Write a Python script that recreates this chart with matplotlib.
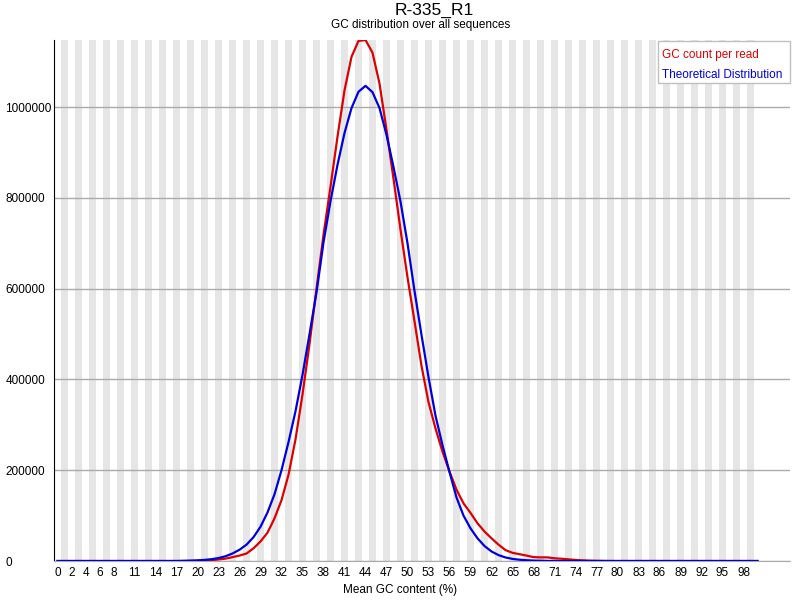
import matplotlib
matplotlib.use("Agg")
import matplotlib.pyplot as plt
from matplotlib.patches import Rectangle

plt.rcParams['font.family'] = ['Liberation Sans', 'DejaVu Sans']

# GC content bins 0..100 %
gc_percent = list(range(101))

# observed GC count per read (red)
gc_count = [
    0, 0, 0, 0, 0, 0, 0, 0, 0, 0,
    0, 0, 0, 0, 0, 0, 0, 0, 0, 200,
    500, 1000, 1500, 3500, 5200, 8500, 12000, 16500, 28000, 43000,
    62500, 94000, 134000, 190000, 268000, 367000, 478000, 600000, 719000, 825000,
    935000, 1037000, 1111000, 1146000, 1148000, 1120000, 1052000, 950000, 842000, 730000,
    625000, 528000, 430000, 350000, 292000, 241000, 197000, 157000, 127000, 106000,
    83000, 65000, 50000, 36000, 24000, 18000, 15000, 12000, 8500, 8000,
    8000, 6000, 5000, 3700, 2200, 1500, 800, 400, 200, 0,
    0, 0, 0, 0, 0, 0, 0, 0, 0, 0,
    0, 0, 0, 0, 0, 0, 0, 0, 0, 0,
    0,
]

# theoretical distribution (blue)
theoretical = [
    0, 0, 0, 0, 0, 0, 0, 0, 0, 0,
    0, 0, 0, 0, 0, 0, 0, 0, 400, 800,
    1400, 2400, 4000, 6500, 10500, 16500, 24800, 36000, 52500, 75500,
    107000, 147000, 200000, 262000, 330000, 410000, 500000, 592000, 702000, 793000,
    873000, 943000, 998000, 1034000, 1047000, 1033000, 998000, 939000, 868000, 792000,
    700000, 595000, 498000, 405000, 320000, 255000, 196000, 140000, 100000, 72000,
    50000, 33000, 21000, 13000, 7800, 4600, 2800, 1700, 1000, 600,
    300, 150, 0, 0, 0, 0, 0, 0, 0, 0,
    0, 0, 0, 0, 0, 0, 0, 0, 0, 0,
    0, 0, 0, 0, 0, 0, 0, 0, 0, 0,
    0,
]

series_names = ["GC count per read", "Theoretical Distribution"]
series_colors = ["#dd0000", "#0000dd"]

x_labels = [0, 2, 4, 6, 8, 11, 14, 17, 20, 23, 26, 29, 32, 35, 38, 41, 44, 47,
            50, 53, 56, 59, 62, 65, 68, 71, 74, 77, 80, 83, 86, 89, 92, 95, 98]
y_ticks = [0, 200000, 400000, 600000, 800000, 1000000]

W, H = 800, 600
fig = plt.figure(figsize=(8, 6), dpi=100)
ax = fig.add_axes([54 / W, 39 / H, 736 / W, 521 / H])

# alternating background bands, one per bin
for i in gc_percent:
    if i % 2 == 1:
        ax.axvspan(i - 0.5, i + 0.5, color="#e6e6e6", lw=0, zorder=0)

for yt in y_ticks:
    ax.axhline(yt, color="#aaaaaa", lw=1, zorder=1)

for values, name, col, z in zip([gc_count, theoretical], series_names, series_colors, [3, 4]):
    ax.plot(gc_percent, values, color=col, lw=1.6, zorder=z, label=name)

ax.set_xlim(-0.5, 104.64)
ax.set_ylim(0, max(max(gc_count), max(theoretical)))

ax.set_xticks(x_labels)
ax.set_xticklabels([str(v) for v in x_labels], fontsize=8.5)
ax.set_yticks(y_ticks)
ax.set_yticklabels([str(v) for v in y_ticks], fontsize=8.5)
ax.tick_params(axis="both", length=0)
ax.tick_params(axis="x", pad=4)
ax.tick_params(axis="y", pad=35)
for lbl in ax.get_yticklabels():
    lbl.set_horizontalalignment("left")

for side in ["top", "right"]:
    ax.spines[side].set_visible(False)
ax.spines["left"].set_color("black")
ax.spines["bottom"].set_color("#aaaaaa")

fig.text(400 / W, 1 - 590 / H, "Mean GC content (%)", fontsize=8.5, ha="center", va="center")

fig.text(434 / W, 1 - 10 / H, "R-335_R1", fontsize=12.5, ha="center", va="center")
fig.text(421 / W, 1 - 25 / H, "GC distribution over all sequences",
         fontsize=8.5, ha="center", va="center")

# legend box, drawn in figure pixels like the original
fig.patches.append(Rectangle((658 / W, 1 - 83 / H), 132 / W, 42 / H,
                             transform=fig.transFigure, facecolor="white",
                             edgecolor="#c0c0c0", lw=1, zorder=5))
for k, (name, col) in enumerate(zip(series_names, series_colors)):
    fig.text(662 / W, 1 - (55 + 20 * k) / H, name, color=col, fontsize=8.5,
             ha="left", va="center", zorder=6)

fig.savefig("out.png", dpi=100)
